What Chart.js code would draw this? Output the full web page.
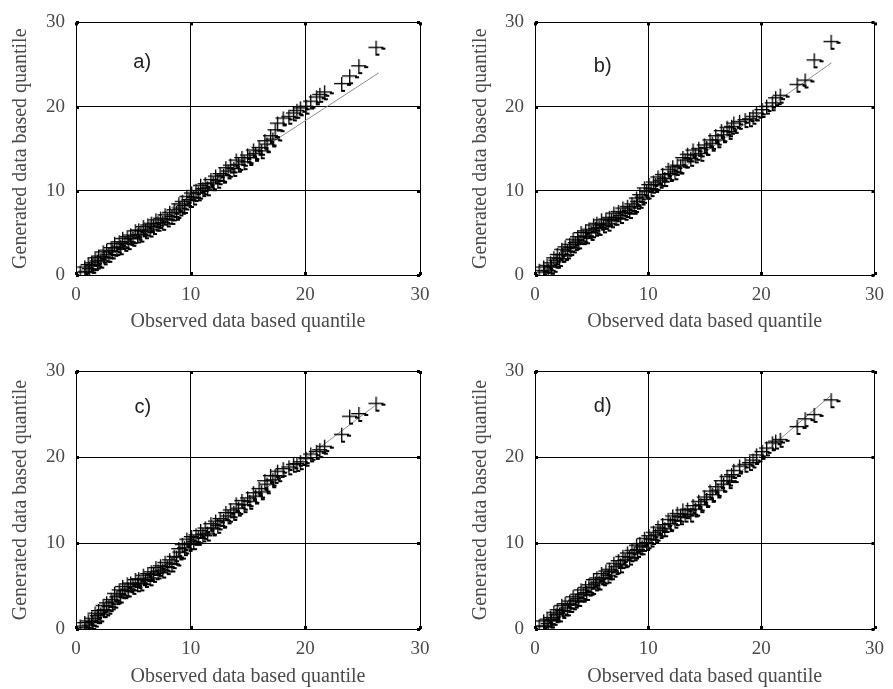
<!DOCTYPE html>
<html>
<head>
<meta charset="utf-8">
<script src="https://cdn.jsdelivr.net/npm/chart.js@4.4.0/dist/chart.umd.min.js"></script>
<style>
  html, body { margin: 0; padding: 0; background: #fff; }
  #wrap { position: relative; width: 893px; height: 689px; overflow: hidden; }
  .panel { position: absolute; }
  .panel canvas { display: block; }
</style>
</head>
<body>
<div id="wrap">
  <div class="panel" style="left:0;top:0"><canvas id="qa" width="440" height="340"></canvas></div>
  <div class="panel" style="left:440px;top:0"><canvas id="qb" width="453" height="340"></canvas></div>
  <div class="panel" style="left:0;top:340px"><canvas id="qc" width="440" height="349"></canvas></div>
  <div class="panel" style="left:440px;top:340px"><canvas id="qd" width="453" height="349"></canvas></div>
</div>
<script>
// ── Data ──────────────────────────────────────────────────────────────────────

const axisTicks = [0, 10, 20, 30];
const xTitle = 'Observed data based quantile';
const yTitle = 'Generated data based quantile';

// observed quantiles, shared by all four panels
const observed = [
  0.4, 0.8, 0.9, 1.1, 1.2, 1.4, 1.5, 1.7, 1.9, 2.0,
  2.2, 2.4, 2.5, 2.7, 2.9, 3.1, 3.2, 3.4, 3.6, 3.8,
  3.9, 4.1, 4.3, 4.5, 4.6, 4.8, 5.0, 5.2, 5.4, 5.5,
  5.7, 5.9, 6.1, 6.3, 6.5, 6.6, 6.8, 7.0, 7.2, 7.4,
  7.6, 7.8, 8.0, 8.2, 8.4, 8.6, 8.8, 9.0, 9.1, 9.3,
  9.5, 9.7, 9.9, 10.1, 10.3, 10.5, 10.7, 10.9, 11.1, 11.3,
  11.5, 11.8, 12.0, 12.2, 12.4, 12.6, 12.9, 13.1, 13.3, 13.5,
  13.8, 14.0, 14.2, 14.5, 14.7, 15.0, 15.2, 15.5, 15.7, 16.0,
  16.2, 16.5, 16.7, 17.0, 17.2,
  17.4, 17.6, 18.1, 18.6, 19.0, 19.3, 19.6, 20.1, 20.5, 21.0, 21.3, 21.7, 23.2, 23.9, 24.7, 26.2
];

// generated quantiles, one list per panel
const genA = [
  0.3, 0.9, 0.4, 1.2, 0.7, 1.4, 1.1, 2.0, 1.6, 2.2,
  1.7, 2.7, 2.1, 2.9, 2.4, 3.2, 2.8, 3.7, 3.2, 3.9,
  3.3, 4.3, 3.7, 4.5, 3.9, 4.7, 4.3, 5.2, 4.7, 5.3,
  4.8, 5.7, 5.2, 5.9, 5.4, 6.1, 5.7, 6.5, 6.1, 6.7,
  6.2, 7.1, 6.6, 7.4, 6.9, 7.7, 7.4, 8.4, 7.9, 8.7,
  8.2, 9.3, 8.9, 9.7, 9.2, 10.0, 9.7, 10.6, 10.2, 10.8,
  10.3, 11.3, 10.9, 11.7, 11.2, 12.0, 11.8, 12.7, 12.3, 13.0,
  12.6, 13.6, 13.1, 13.9, 13.4, 14.2, 13.9, 14.8, 14.4, 15.1,
  14.7, 15.9, 15.5, 16.5, 16.1,
  17.2, 18.0, 18.6, 18.8, 19.2, 19.5, 19.8, 20.0, 20.6, 21.1, 21.4, 21.7, 22.7, 23.6, 24.8, 27.0
];
const genB = [
  0.5, 0.9, 0.3, 1.1, 0.5, 1.4, 1.0, 2.0, 1.7, 2.4,
  1.9, 3.0, 2.4, 3.3, 2.8, 3.6, 3.2, 4.2, 3.8, 4.5,
  4.0, 5.0, 4.5, 5.2, 4.6, 5.4, 5.0, 5.9, 5.5, 6.1,
  5.6, 6.5, 5.9, 6.6, 6.1, 6.8, 6.5, 7.3, 6.8, 7.5,
  7.0, 7.9, 7.4, 8.1, 7.6, 8.4, 8.1, 9.1, 8.7, 9.5,
  9.2, 10.3, 9.9, 10.7, 10.2, 11.0, 10.7, 11.6, 11.2, 11.9,
  11.4, 12.5, 12.0, 12.8, 12.2, 13.0, 12.9, 13.9, 13.6, 14.3,
  13.8, 14.8, 14.2, 15.0, 14.4, 15.4, 15.1, 16.0, 15.6, 16.5,
  16.0, 17.1, 16.6, 17.5, 17.0,
  17.6, 18.0, 18.2, 18.4, 18.5, 18.8, 19.2, 19.6, 20.0, 20.4, 21.0, 21.3, 22.6, 23.1, 25.5, 27.7
];
const genC = [
  0.3, 0.7, 0.1, 0.9, 0.4, 1.2, 0.8, 1.8, 1.5, 2.1,
  1.7, 2.7, 2.2, 3.0, 2.6, 3.4, 3.1, 4.1, 3.7, 4.5,
  3.9, 4.9, 4.4, 5.2, 4.6, 5.3, 4.9, 5.7, 5.2, 5.8,
  5.3, 6.2, 5.7, 6.4, 5.9, 6.6, 6.3, 7.1, 6.7, 7.3,
  6.8, 7.7, 7.2, 8.0, 7.5, 8.4, 8.3, 9.3, 8.9, 9.8,
  9.4, 10.4, 9.9, 10.7, 10.1, 10.9, 10.6, 11.4, 11.0, 11.7,
  11.1, 12.2, 11.7, 12.5, 12.0, 12.8, 12.6, 13.5, 13.1, 13.8,
  13.5, 14.5, 14.0, 14.9, 14.4, 15.2, 14.8, 15.8, 15.4, 16.3,
  15.9, 17.2, 16.8, 17.8, 17.3,
  17.8, 18.3, 18.6, 18.8, 19.1, 19.2, 19.4, 19.8, 20.3, 20.6, 20.8, 21.2, 22.6, 24.7, 25.0, 26.2
];
const genD = [
  0.3, 0.9, 0.3, 1.1, 0.6, 1.3, 1.0, 1.9, 1.6, 2.2,
  1.7, 2.7, 2.1, 2.9, 2.4, 3.2, 2.8, 3.7, 3.3, 4.0,
  3.5, 4.5, 4.0, 4.8, 4.2, 5.1, 4.8, 5.7, 5.3, 5.9,
  5.4, 6.4, 5.9, 6.7, 6.2, 6.9, 6.6, 7.6, 7.2, 7.9,
  7.4, 8.4, 8.0, 8.8, 8.3, 9.1, 8.8, 9.7, 9.2, 9.9,
  9.5, 10.5, 10.0, 10.8, 10.4, 11.2, 10.9, 11.8, 11.4, 12.1,
  11.6, 12.7, 12.2, 13.1, 12.6, 13.4, 13.0, 13.8, 13.3, 13.9,
  13.3, 14.3, 13.9, 14.8, 14.4, 15.3, 15.0, 16.0, 15.6, 16.5,
  16.1, 17.2, 16.8, 17.7, 17.2,
  17.9, 18.4, 18.9, 19.1, 19.3, 19.6, 20.2, 20.6, 21.0, 21.6, 21.8, 22.0, 23.5, 24.4, 24.9, 26.6
];

// thin reference lines
const fitXA = [1.0, 26.4];
const fitYA = [1.5, 24.0];
const fitXB = [2.0, 26.2];
const fitYB = [2.2, 25.2];
const fitXC = [1.0, 26.1];
const fitYC = [0.6, 26.0];
const fitXD = [1.0, 19.8, 26.1];
const fitYD = [0.4, 20.0, 27.1];

// ── Marker & decorations ─────────────────────────────────────────────────────

// '+' glyph with the little stubs on the right arm and at the foot
function plusGlyph() {
  const c = document.createElement('canvas');
  c.width = 20; c.height = 20;
  const g = c.getContext('2d');
  g.fillStyle = 'rgba(0,0,0,0.35)';
  g.fillRect(2, 10, 15, 1);
  g.fillRect(10, 3, 1, 15);
  g.fillStyle = '#000';
  g.fillRect(2, 9, 15, 1);
  g.fillRect(9, 3, 1, 15);
  g.fillRect(15, 10, 4, 2);
  g.fillRect(9, 16, 4, 2);
  return c;
}
const plusImg = plusGlyph();

const panelDecor = {
  id: 'panelDecor',
  afterDraw(chart, args, opts) {
    const {ctx, chartArea: a, scales: {x, y}} = chart;
    ctx.save();
    ctx.fillStyle = '#000';
    axisTicks.forEach(v => {
      const px = Math.round(x.getPixelForValue(v)), py = Math.round(y.getPixelForValue(v));
      ctx.fillRect(a.left, py - 1, 3, 3);
      ctx.fillRect(a.right - 3, py - 1, 3, 3);
      ctx.fillRect(px - 1, a.top, 3, 3);
      ctx.fillRect(px - 1, a.bottom - 3, 3, 3);
    });
    ctx.font = '20px "Liberation Sans", Arial, sans-serif';
    ctx.fillStyle = '#222';
    ctx.textBaseline = 'middle';
    ctx.fillText(opts.tag, x.getPixelForValue(opts.tx), y.getPixelForValue(opts.ty));
    ctx.restore();
  }
};

// ── Panels ────────────────────────────────────────────────────────────────────

const serif = '"Liberation Serif", "Times New Roman", serif';
const textGray = '#4a4a4a';

function pts(xs, ys) { return xs.map((v, i) => ({x: v, y: ys[i]})); }

function makePanel(id, gen, fitX, fitY, tag, g) {
  return new Chart(document.getElementById(id), {
    type: 'scatter',
    data: {
      datasets: [
        { data: pts(observed, gen), pointStyle: plusImg, pointRadius: 8, order: 0 },
        { data: pts(fitX, fitY), showLine: true, pointRadius: 0, borderColor: '#8c8c8c', borderWidth: 1, order: 1 }
      ]
    },
    options: {
      responsive: false,
      animation: false,
      events: [],
      layout: { padding: { left: 0, top: g.padT, right: g.padR, bottom: 0 } },
      plugins: {
        legend: { display: false },
        tooltip: { enabled: false },
        panelDecor: { tag: tag, tx: g.tx, ty: g.ty }
      },
      scales: {
        x: {
          type: 'linear', min: 0, max: 30,
          ticks: { stepSize: 10, maxRotation: 0, padding: 9, color: textGray, font: { family: serif, size: 19 } },
          grid: { color: '#000', lineWidth: 1, drawTicks: false },
          border: { color: '#000' },
          title: { display: true, text: xTitle, color: textGray, font: { family: serif, size: 20, lineHeight: 1.2 }, padding: { top: 0, bottom: g.xtPad } },
          afterFit: s => { s.height = g.xH; }
        },
        y: {
          type: 'linear', min: 0, max: 30,
          ticks: { stepSize: 10, padding: 11, color: textGray, font: { family: serif, size: 19 } },
          grid: { color: '#000', lineWidth: 1, drawTicks: false },
          border: { color: '#000' },
          title: { display: true, text: yTitle, color: textGray, font: { family: serif, size: 20, lineHeight: 1.2 }, padding: { top: g.ytPad, bottom: 0 } },
          afterFit: s => { s.width = g.yW; }
        }
      }
    },
    plugins: [panelDecor]
  });
}

makePanel('qa', genA, fitXA, fitYA, 'a)', { yW: 76, xH: 65, padT: 17, padR: 20, ytPad: 9,  xtPad: 6, tx: 5.0, ty: 25.2 });
makePanel('qb', genB, fitXB, fitYB, 'b)', { yW: 95, xH: 65, padT: 17, padR: 12, ytPad: 29, xtPad: 6, tx: 5.2, ty: 24.8 });
makePanel('qc', genC, fitXC, fitYC, 'c)', { yW: 76, xH: 60, padT: 31, padR: 20, ytPad: 9,  xtPad: 0, tx: 5.1, ty: 25.8 });
makePanel('qd', genD, fitXD, fitYD, 'd)', { yW: 95, xH: 60, padT: 31, padR: 12, ytPad: 29, xtPad: 0, tx: 5.2, ty: 25.9 });
</script>
</body>
</html>
